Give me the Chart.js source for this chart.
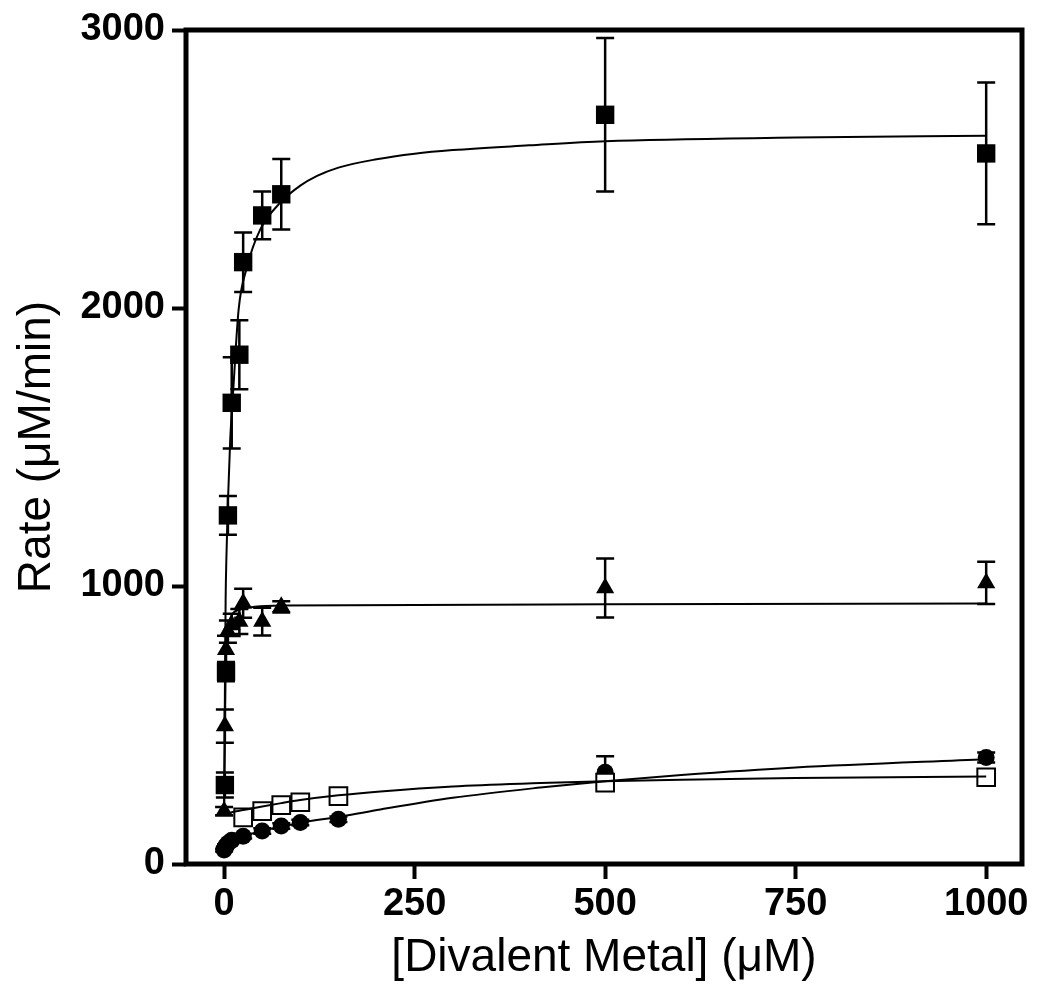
<!DOCTYPE html>
<html>
<head>
<meta charset="utf-8">
<script src="https://cdn.jsdelivr.net/npm/chart.js@4.4.1/dist/chart.umd.min.js"></script>
<style>
  html, body { margin: 0; padding: 0; background: #fff; }
  canvas { display: block; }
</style>
</head>
<body>
<canvas id="rateChart" width="1050" height="1008"></canvas>
<script>
// tick labels
const xTickVals = [0, 250, 500, 750, 1000];
const yTickVals = [0, 1000, 2000, 3000];

// filled squares
const sqConc = [1, 2.5, 5, 10, 20, 25, 50, 75, 500, 1000];
const sqRate = [284, 692, 1254, 1659, 1832, 2165, 2333, 2409, 2695, 2556];
const sqErr = [45, 35, 70, 164, 124, 107, 86, 127, 276, 255];

// filled triangles
const triConc = [0, 1, 2.5, 5, 10, 20, 25, 50, 75, 500, 1000];
const triRate = [190, 496, 771, 836, 860, 872, 938, 872, 925, 993, 1011];
const triErr = [15, 60, 50, 40, 40, 45, 52, 50, 20, 106, 76];

// open squares
const openConc = [25, 50, 75, 100, 150, 500, 1000];
const openRate = [168, 190, 212, 222, 244, 293, 312];
const openErr = [8, 8, 8, 8, 8, 20, 12];

// filled circles
const cirConc = [0, 1, 2.5, 5, 10, 25, 50, 75, 100, 150, 500, 1000];
const cirRate = [50, 58, 66, 75, 85, 100, 119, 137, 149, 161, 330, 383];
const cirErr = [5, 5, 5, 5, 5, 8, 10, 10, 10, 10, 58, 18];

// fitted curves
const sqFitX = [0, 1, 2, 3, 5, 8, 12, 19, 30, 47, 74, 100, 122, 150, 200, 250, 300, 400, 500, 750, 1000];
const sqFitY = [190, 600, 950, 1100, 1300, 1525, 1705, 1993, 2147, 2280, 2380, 2440, 2475, 2505, 2535, 2555, 2568, 2585, 2600, 2613, 2620];
const triFitX = [0, 1, 2, 3, 5, 10, 20, 40, 75, 500, 1000];
const triFitY = [190, 450, 700, 790, 850, 895, 915, 925, 930, 934, 937];
const openFitX = [5, 10, 25, 50, 75, 100, 150, 205, 300, 415, 500, 600, 750, 1000];
const openFitY = [180, 186, 194, 207, 219, 230, 247, 261, 279, 291, 298, 303, 309, 315];
const cirFitX = [0, 10, 25, 50, 75, 100, 156, 205, 300, 415, 500, 600, 750, 1000];
const cirFitY = [80, 88, 100, 120, 134, 148, 172, 196, 238, 275, 298, 320, 347, 377];

const toPts = (xs, ys) => xs.map((x, i) => ({ x, y: ys[i] }));

const fitLine = (xs, ys) => ({
    type: 'line', data: toPts(xs, ys), borderColor: '#000', borderWidth: 2,
    pointRadius: 0, fill: false, cubicInterpolationMode: 'monotone'
});

const marks = (xs, ys, err, style, radius, fillColor, bw) => ({
    type: 'scatter', data: toPts(xs, ys), err,
    pointStyle: style, pointRadius: radius, pointBackgroundColor: fillColor,
    pointBorderColor: '#000', pointBorderWidth: bw, showLine: false
});

const errorBars = {
    id: 'errorBars',
    beforeDatasetsDraw(chart) {
        const { ctx, scales: { x, y } } = chart;
        ctx.save();
        ctx.strokeStyle = '#000';
        ctx.lineWidth = 2.5;
        chart.data.datasets.forEach((ds) => {
            if (!ds.err) return;
            ds.data.forEach((p, j) => {
                const px = x.getPixelForValue(p.x);
                const top = y.getPixelForValue(p.y + ds.err[j]);
                const bot = y.getPixelForValue(p.y - ds.err[j]);
                ctx.beginPath();
                ctx.moveTo(px, top); ctx.lineTo(px, bot);
                ctx.moveTo(px - 9, top); ctx.lineTo(px + 9, top);
                ctx.moveTo(px - 9, bot); ctx.lineTo(px + 9, bot);
                ctx.stroke();
            });
        });
        ctx.restore();
    }
};

const frame = {
    id: 'frame',
    afterDraw(chart) {
        const { ctx, chartArea: a } = chart;
        ctx.save();
        ctx.strokeStyle = '#000';
        ctx.lineWidth = 5;
        ctx.strokeRect(a.left, a.top, a.right - a.left, a.bottom - a.top);
        ctx.restore();
    }
};

const tickFont = { family: "'Liberation Sans', Arial, sans-serif", size: 38, weight: 'bold' };
const titleFont = { family: "'Liberation Sans', Arial, sans-serif", size: 46, weight: 'normal' };

new Chart(document.getElementById('rateChart'), {
    type: 'scatter',
    data: {
        datasets: [
            fitLine(sqFitX, sqFitY),
            fitLine(triFitX, triFitY),
            fitLine(openFitX, openFitY),
            fitLine(cirFitX, cirFitY),
            marks(openConc, openRate, openErr, 'rect', 12.5, '#fff', 2),
            marks(cirConc, cirRate, cirErr, 'circle', 8.5, '#000', 0),
            marks(triConc, triRate, triErr, 'triangle', 10.5, '#000', 0),
            marks(sqConc, sqRate, sqErr, 'rect', 13, '#000', 0)
        ]
    },
    options: {
        responsive: false,
        animation: false,
        layout: { padding: { top: 30, right: 28, left: 0, bottom: 0 } },
        plugins: { legend: { display: false }, tooltip: { enabled: false } },
        scales: {
            x: {
                type: 'linear', min: -50, max: 1047,
                afterBuildTicks: (s) => { s.ticks = xTickVals.map(v => ({ value: v })); },
                afterFit: (s) => { s.height = 144; },
                grid: { drawOnChartArea: false, drawTicks: true, tickLength: 15, tickWidth: 4, tickColor: '#000' },
                border: { display: false },
                ticks: { color: '#000', font: tickFont, padding: 3, maxRotation: 0, callback: (v) => String(v) },
                title: { display: true, text: '[Divalent Metal] (μM)', color: '#000', font: titleFont, padding: { top: 0, bottom: 22 } }
            },
            y: {
                type: 'linear', min: 0, max: 3000,
                afterBuildTicks: (s) => { s.ticks = yTickVals.map(v => ({ value: v })); },
                afterFit: (s) => { s.width = 186; },
                grid: { drawOnChartArea: false, drawTicks: true, tickLength: 14, tickWidth: 4, tickColor: '#000' },
                border: { display: false },
                ticks: { color: '#000', font: tickFont, padding: 7, callback: (v) => String(v) },
                title: { display: true, text: 'Rate (μM/min)', color: '#000', font: titleFont, padding: { top: 10, bottom: 0 } }
            }
        }
    },
    plugins: [errorBars, frame]
});
</script>
</body>
</html>
